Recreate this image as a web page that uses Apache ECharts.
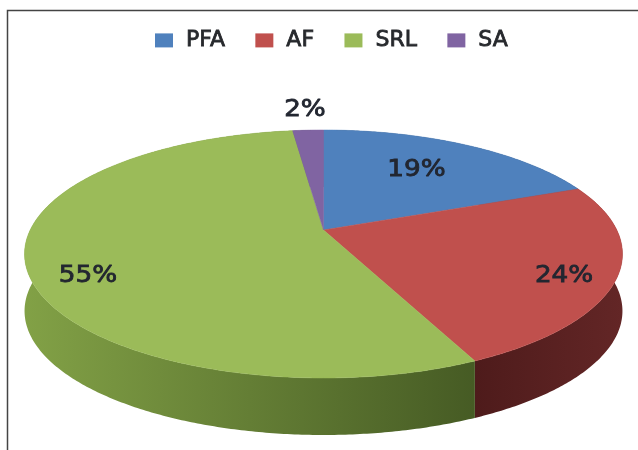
<!DOCTYPE html>
<html>
<head>
<meta charset="utf-8">
<script src="https://cdn.jsdelivr.net/npm/echarts@6/dist/echarts.min.js"></script>
<style>
html,body{margin:0;padding:0;background:#fff;}
#chart{width:638px;height:450px;}
</style>
</head>
<body>
<div id="chart"></div>
<script>
// data
var categories = ['PFA', 'AF', 'SRL', 'SA'];
var shares = [19, 24, 55, 2];

// look
var topColors = ['#4f81bd', '#c0504d', '#9bbb59', '#8064a2'];
var sideColors = [
  ['#33557e', '#2c4a6e'],
  ['#4e1b1b', '#632626'],
  ['#82a146', '#465b24'],
  ['#54426c', '#4a3a60']
];
var labelR = [0.62, 0.83, 0.8, 1.25];
var labelDy = [-4, 7, 18, 0];

// perspective projection of the pie disk
var CX = 323.5, E = 293.3, A = 74.84, B = 230, C = -0.1935, H = 57;
function proj(r, t, dy) {
  var u = r * Math.sin(t), v = -r * Math.cos(t);
  var den = 1 + C * v;
  return [CX + E * u / den, (A * v + B) / den + (dy || 0)];
}

var total = shares.reduce(function (a, b) { return a + b; }, 0);
var starts = [];
var acc = 0;
for (var i = 0; i < shares.length; i++) { starts.push(acc); acc += shares[i]; }

function makeRender(idx) {
  return function (params, api) {
    var val = api.value(0);
    var a0 = starts[idx] / total * Math.PI * 2;
    var a1 = a0 + val / total * Math.PI * 2;
    var n = Math.max(4, Math.ceil((a1 - a0) / 0.01));
    var arcTop = [], arcBot = [];
    for (var k = 0; k <= n; k++) {
      var t = a0 + (a1 - a0) * k / n;
      arcTop.push(proj(1, t, 0));
      arcBot.push(proj(1, t, H));
    }
    var topPts = [proj(0, 0, 0)].concat(arcTop);
    var wallPts = arcTop.concat(arcBot.slice().reverse());
    var xs = arcTop.map(function (p) { return p[0]; });
    var xmin = Math.min.apply(null, xs), xmax = Math.max.apply(null, xs);
    var mid = (a0 + a1) / 2;
    var lp = proj(labelR[idx], mid, labelDy[idx]);
    return {
      type: 'group',
      children: [
        {
          type: 'polygon', z2: 0,
          shape: { points: wallPts },
          style: {
            fill: new echarts.graphic.LinearGradient(xmin, 0, xmax + 0.01, 0, [
              { offset: 0, color: sideColors[idx][0] },
              { offset: 1, color: sideColors[idx][1] }
            ], true),
            stroke: null
          }
        },
        {
          type: 'polygon', z2: 10,
          shape: { points: topPts },
          style: { fill: topColors[idx], stroke: topColors[idx], lineWidth: 0.5 }
        },
        {
          type: 'text', z2: 20,
          x: lp[0], y: lp[1], scaleX: 1.14,
          style: {
            text: Math.round(val / total * 100) + '%',
            fontSize: 23,
            fontFamily: 'DejaVu Sans',
            fill: '#222630',
            stroke: '#222630',
            lineWidth: 0.8,
            align: 'center',
            verticalAlign: 'middle'
          }
        }
      ]
    };
  };
}

var series = categories.map(function (name, i) {
  return {
    type: 'custom',
    name: name,
    coordinateSystem: 'none',
    silent: true,
    itemStyle: { color: topColors[i] },
    data: [[shares[i]]],
    renderItem: makeRender(i)
  };
});

var chart = echarts.init(document.getElementById('chart'));
var option = {
  animation: false,
  backgroundColor: '#ffffff',
  legend: {
    top: 24,
    left: 150,
    icon: 'rect',
    itemWidth: 18,
    itemHeight: 14,
    itemGap: 30,
    selectedMode: false,
    textStyle: {
      fontSize: 22, fontFamily: 'DejaVu Sans', color: '#26282c',
      textBorderColor: '#26282c', textBorderWidth: 0.8,
      padding: [0, 0, 0, 8]
    },
    data: categories
  },
  graphic: [
    {
      type: 'polyline',
      shape: { points: [[7.5, 450], [7.5, 10.5], [638, 10.5]] },
      style: { stroke: '#444', lineWidth: 1.5, fill: null }
    }
  ],
  series: series
};
chart.setOption(option);
</script>
</body>
</html>
